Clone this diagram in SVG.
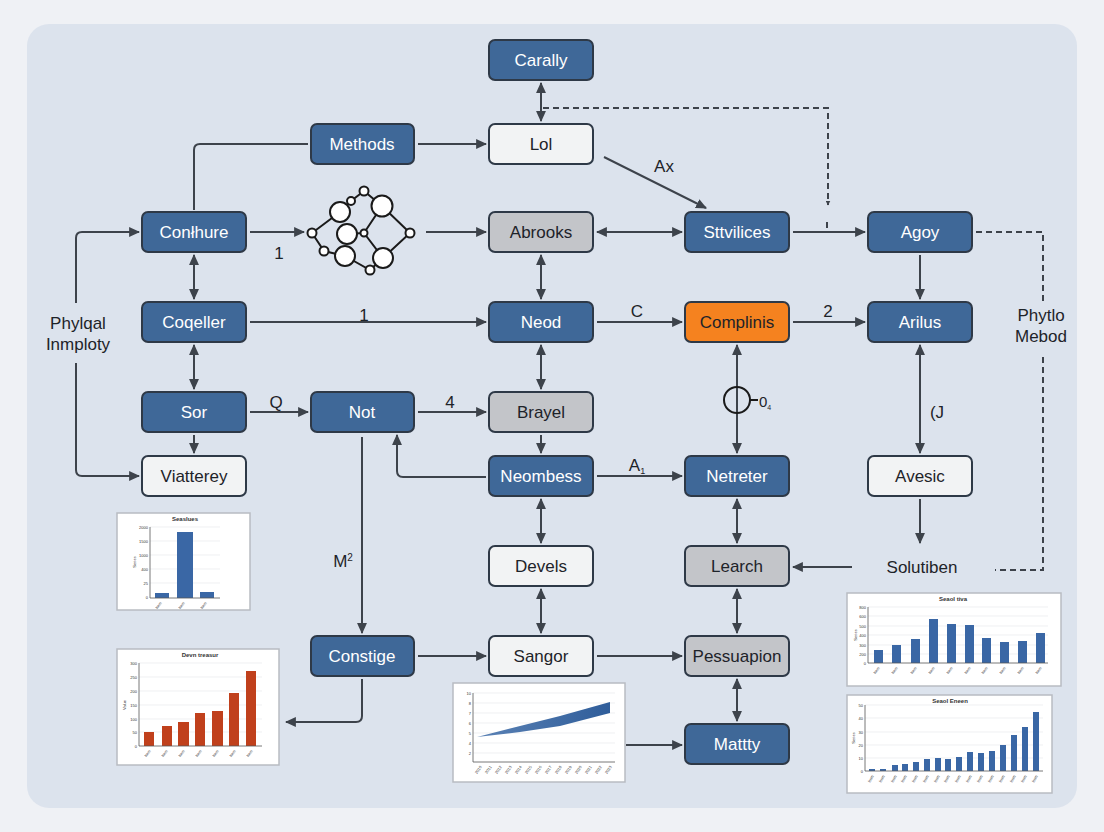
<svg xmlns="http://www.w3.org/2000/svg" width="1104" height="832" viewBox="0 0 1104 832">
<defs>
<marker id="ah" viewBox="0 0 10 10" refX="9" refY="5" markerWidth="5" markerHeight="5" orient="auto-start-reverse" markerUnits="userSpaceOnUse">
<path d="M0,0 L10,5 L0,10 z" fill="#3d434b"/>
</marker>
<marker id="a" viewBox="0 0 10 10" refX="9" refY="5" markerWidth="11" markerHeight="11" orient="auto-start-reverse" markerUnits="userSpaceOnUse">
<path d="M0,0.5 L10,5 L0,9.5 z" fill="#3d434b"/>
</marker>
<marker id="as" viewBox="0 0 10 10" refX="9" refY="5" markerWidth="8" markerHeight="8" orient="auto-start-reverse" markerUnits="userSpaceOnUse">
<path d="M0,0.5 L10,5 L0,9.5 z" fill="#3d434b"/>
</marker>
<linearGradient id="areaG" x1="0" y1="0" x2="1" y2="0">
<stop offset="0" stop-color="#5b82b5"/>
<stop offset="1" stop-color="#2f5d9a"/>
</linearGradient>
</defs>
<style>
.n rect{stroke:#2e3947;stroke-width:2}
.blue rect{fill:#3f6898}
.white rect{fill:#f2f3f4}
.gray rect{fill:#c3c5c9}
.orange rect{fill:#f5821f}
.n text{font-family:"Liberation Sans",Arial,sans-serif;font-size:17px;text-anchor:middle}
.blue text{fill:#ffffff}
.white text,.gray text,.orange text{fill:#1e2329}
.c path,.c line{stroke:#3d434b;stroke-width:2;fill:none}
.dash{stroke:#2f353d;stroke-width:2;fill:none;stroke-dasharray:6 4}
.lbl{font-family:"Liberation Sans",Arial,sans-serif;font-size:17px;fill:#1e2329;text-anchor:middle}
.ch rect.bg{fill:#ffffff;stroke:#b8bcc2;stroke-width:1.5}
.ch .ax{stroke:#555;stroke-width:0.8;fill:none}
.ch .gr{stroke:#e4e6ea;stroke-width:0.6}
.ch text{font-family:"Liberation Sans",Arial,sans-serif;fill:#333}
.ch .t{font-size:6px;font-weight:bold;text-anchor:middle}
.ch .y{font-size:4px;text-anchor:end}
.ch .x{font-size:4px;text-anchor:end}
.bb{fill:#3a67a5}
.rb{fill:#c0401c}
.net circle{fill:#ffffff;stroke:#1a1a1a;stroke-width:2}
.net path{stroke:#1a1a1a;stroke-width:2;fill:none}
</style>
<rect x="0" y="0" width="1104" height="832" fill="#eff1f5"/>
<rect x="27" y="24" width="1050" height="784" rx="22" fill="#dce3ed"/>

<g id="connectors" class="c">
<line x1="541" y1="83" x2="541" y2="121" marker-start="url(#a)" marker-end="url(#a)"/>
<path d="M194,210 V150 Q194,144 200,144 H308"/>
<line x1="418" y1="144" x2="486" y2="144" marker-end="url(#a)"/>
<line x1="604" y1="157" x2="706" y2="208" marker-end="url(#a)"/>
<path d="M76,303 V238 Q76,232 82,232 H139" marker-end="url(#a)"/>
<path d="M76,363 V470 Q76,476 82,476 H139" marker-end="url(#a)"/>
<line x1="194" y1="255" x2="194" y2="299" marker-start="url(#a)" marker-end="url(#a)"/>
<line x1="250" y1="232" x2="304" y2="232" marker-end="url(#a)"/>
<line x1="426" y1="232" x2="486" y2="232" marker-end="url(#a)"/>
<line x1="597" y1="232" x2="682" y2="232" marker-start="url(#a)" marker-end="url(#a)"/>
<line x1="793" y1="232" x2="865" y2="232" marker-end="url(#a)"/>
<line x1="827" y1="222" x2="827" y2="228"/>
<line x1="920" y1="255" x2="920" y2="299" marker-end="url(#a)"/>
<line x1="541" y1="255" x2="541" y2="299" marker-start="url(#a)" marker-end="url(#a)"/>
<line x1="250" y1="322" x2="486" y2="322" marker-end="url(#a)"/>
<line x1="597" y1="322" x2="682" y2="322" marker-end="url(#a)"/>
<line x1="793" y1="322" x2="865" y2="322" marker-end="url(#a)"/>
<line x1="737" y1="345" x2="737" y2="453" marker-start="url(#a)" marker-end="url(#a)"/>
<line x1="920" y1="345" x2="920" y2="453" marker-start="url(#a)" marker-end="url(#a)"/>
<line x1="920" y1="499" x2="920" y2="543" marker-end="url(#a)"/>
<line x1="852" y1="567" x2="793" y2="567" marker-end="url(#a)"/>
<line x1="541" y1="345" x2="541" y2="389" marker-start="url(#a)" marker-end="url(#a)"/>
<line x1="194" y1="345" x2="194" y2="389" marker-start="url(#a)" marker-end="url(#a)"/>
<line x1="250" y1="412" x2="308" y2="412" marker-end="url(#a)"/>
<line x1="418" y1="412" x2="486" y2="412" marker-end="url(#a)"/>
<line x1="194" y1="435" x2="194" y2="453" marker-end="url(#a)"/>
<line x1="541" y1="435" x2="541" y2="453" marker-end="url(#a)"/>
<path d="M486,477 H403 Q397,477 397,471 V435" marker-end="url(#a)"/>
<line x1="362" y1="437" x2="362" y2="633" marker-end="url(#a)"/>
<line x1="597" y1="476" x2="682" y2="476" marker-end="url(#a)"/>
<line x1="541" y1="499" x2="541" y2="543" marker-start="url(#a)" marker-end="url(#a)"/>
<line x1="737" y1="499" x2="737" y2="543" marker-start="url(#a)" marker-end="url(#a)"/>
<line x1="541" y1="589" x2="541" y2="633" marker-start="url(#a)" marker-end="url(#a)"/>
<line x1="737" y1="589" x2="737" y2="633" marker-start="url(#a)" marker-end="url(#a)"/>
<line x1="418" y1="656" x2="486" y2="656" marker-end="url(#a)"/>
<line x1="597" y1="656" x2="682" y2="656" marker-end="url(#a)"/>
<line x1="737" y1="679" x2="737" y2="721" marker-start="url(#a)" marker-end="url(#a)"/>
<line x1="626" y1="745" x2="682" y2="745" marker-end="url(#a)"/>
<path d="M362,679 V716 Q362,722 356,722 H286" marker-end="url(#a)"/>
<path class="dash" d="M543,108 H828 V205" marker-end="url(#ah)"/>
<path class="dash" d="M976,232 H1043 V305"/>
<path class="dash" d="M1043,357 V570 H995"/>
<circle cx="737" cy="400" r="13" fill="none" stroke="#1a1a1a" stroke-width="2"/>
<line x1="750" y1="400" x2="758" y2="400" style="stroke:#1a1a1a"/>
</g>

<g id="labels">
<text class="lbl" x="664" y="172">Ax</text>
<text class="lbl" x="279" y="259">1</text>
<text class="lbl" x="364" y="321">1</text>
<text class="lbl" x="637" y="317">C</text>
<text class="lbl" x="828" y="317">2</text>
<text class="lbl" x="276" y="408">Q</text>
<text class="lbl" x="450" y="408">4</text>
<text class="lbl" x="637" y="471">A<tspan font-size="9" dy="3">1</tspan></text>
<text class="lbl" x="343" y="567">M<tspan font-size="10" dy="-6">2</tspan></text>
<text class="lbl" x="937" y="418">(J</text>
<text class="lbl" x="765" y="407" style="font-size:15px">0<tspan font-size="7" dy="3">4</tspan></text>
<text class="lbl" x="78" y="329">Phylqal</text>
<text class="lbl" x="78" y="350">Inmploty</text>
<text class="lbl" x="1041" y="321">Phytlo</text>
<text class="lbl" x="1041" y="342">Mebod</text>
</g>

<g id="n-carally" class="n blue"><rect x="489" y="40" width="104" height="40" rx="6"/><text x="541" y="66">Carally</text></g>
<g id="n-methods" class="n blue"><rect x="311" y="124" width="103" height="40" rx="6"/><text x="362" y="150">Methods</text></g>
<g id="n-lol" class="n white"><rect x="489" y="124" width="104" height="40" rx="6"/><text x="541" y="150">Lol</text></g>
<g id="n-conhure" class="n blue"><rect x="142" y="212" width="104" height="40" rx="6"/><text x="194" y="238">Conłhure</text></g>
<g id="n-abrooks" class="n gray"><rect x="489" y="212" width="104" height="40" rx="6"/><text x="541" y="238">Abrooks</text></g>
<g id="n-sttvilices" class="n blue"><rect x="685" y="212" width="104" height="40" rx="6"/><text x="737" y="238">Sttvilices</text></g>
<g id="n-agoy" class="n blue"><rect x="868" y="212" width="104" height="40" rx="6"/><text x="920" y="238">Agoy</text></g>
<g id="n-coqeller" class="n blue"><rect x="142" y="302" width="104" height="40" rx="6"/><text x="194" y="328">Coqeller</text></g>
<g id="n-neod" class="n blue"><rect x="489" y="302" width="104" height="40" rx="6"/><text x="541" y="328">Neod</text></g>
<g id="n-complinis" class="n orange"><rect x="685" y="302" width="104" height="40" rx="6"/><text x="737" y="328">Complinis</text></g>
<g id="n-arilus" class="n blue"><rect x="868" y="302" width="104" height="40" rx="6"/><text x="920" y="328">Arilus</text></g>
<g id="n-sor" class="n blue"><rect x="142" y="392" width="104" height="40" rx="6"/><text x="194" y="418">Sor</text></g>
<g id="n-not" class="n blue"><rect x="311" y="392" width="103" height="40" rx="6"/><text x="362" y="418">Not</text></g>
<g id="n-brayel" class="n gray"><rect x="489" y="392" width="104" height="40" rx="6"/><text x="541" y="418">Brayel</text></g>
<g id="n-viatterey" class="n white"><rect x="142" y="456" width="104" height="40" rx="6"/><text x="194" y="482">Viatterey</text></g>
<g id="n-neombess" class="n blue"><rect x="489" y="456" width="104" height="40" rx="6"/><text x="541" y="482">Neombess</text></g>
<g id="n-netreter" class="n blue"><rect x="685" y="456" width="104" height="40" rx="6"/><text x="737" y="482">Netreter</text></g>
<g id="n-avesic" class="n white"><rect x="868" y="456" width="104" height="40" rx="6"/><text x="920" y="482">Avesic</text></g>
<g id="n-devels" class="n white"><rect x="489" y="546" width="104" height="40" rx="6"/><text x="541" y="572">Devels</text></g>
<g id="n-learch" class="n gray"><rect x="685" y="546" width="104" height="40" rx="6"/><text x="737" y="572">Learch</text></g>
<g id="n-solutiben"><text class="lbl" x="922" y="573">Solutiben</text></g>
<g id="n-constige" class="n blue"><rect x="311" y="636" width="103" height="40" rx="6"/><text x="362" y="662">Constige</text></g>
<g id="n-sangor" class="n white"><rect x="489" y="636" width="104" height="40" rx="6"/><text x="541" y="662">Sangor</text></g>
<g id="n-pessuapion" class="n gray"><rect x="685" y="636" width="104" height="40" rx="6"/><text x="737" y="662">Pessuapion</text></g>
<g id="n-mattty" class="n blue"><rect x="685" y="724" width="104" height="40" rx="6"/><text x="737" y="750">Mattty</text></g>

<g id="n-network" class="net">
<path d="M312,233 L340,212 M312,233 L324,251 L345,256 M340,212 L351,201 L364,191 L382,206 M382,206 L410,233 L383,258 L370,270 L345,256 M364,233 L382,206 M364,233 L383,258 M347,234 L364,233"/>
<circle cx="340" cy="212" r="10"/>
<circle cx="382" cy="206" r="10.5"/>
<circle cx="347" cy="234" r="10"/>
<circle cx="345" cy="256" r="10"/>
<circle cx="383" cy="258" r="10"/>
<circle cx="312" cy="233" r="4.5"/>
<circle cx="364" cy="191" r="4.5"/>
<circle cx="351" cy="201" r="4"/>
<circle cx="364" cy="233" r="3.5"/>
<circle cx="410" cy="233" r="4.5"/>
<circle cx="324" cy="251" r="4.5"/>
<circle cx="370" cy="270" r="4.5"/>
</g>

<g id="chart-1" class="ch">
<rect class="bg" x="117" y="513" width="133" height="97"/>
<text class="t" x="185" y="521">Seaslues</text>
<line class="gr" x1="150" y1="527" x2="220" y2="527"/>
<line class="gr" x1="150" y1="541" x2="220" y2="541"/>
<line class="gr" x1="150" y1="555" x2="220" y2="555"/>
<line class="gr" x1="150" y1="569" x2="220" y2="569"/>
<line class="gr" x1="150" y1="583" x2="220" y2="583"/>
<text class="y" x="148" y="529">2000</text>
<text class="y" x="148" y="543">1500</text>
<text class="y" x="148" y="557">1000</text>
<text class="y" x="148" y="571">400</text>
<text class="y" x="148" y="585">25</text>
<text class="y" x="148" y="599">0</text>
<text x="136" y="562" style="font-size:4px" transform="rotate(-90 136 562)" text-anchor="middle">Series</text>
<rect class="bb" x="155" y="593" width="14" height="5"/>
<rect class="bb" x="177" y="532" width="16" height="66"/>
<rect class="bb" x="200" y="592" width="14" height="6"/>
<path class="ax" d="M150,527 V598 H220"/>
<text class="x" x="162" y="603" transform="rotate(-55 162 603)">Item</text>
<text class="x" x="185" y="603" transform="rotate(-55 185 603)">Item</text>
<text class="x" x="207" y="603" transform="rotate(-55 207 603)">Item</text>
</g>

<g id="chart-2" class="ch">
<rect class="bg" x="117" y="649" width="162" height="116"/>
<text class="t" x="200" y="657">Devn treasur</text>
<line class="gr" x1="139" y1="663" x2="262" y2="663"/>
<line class="gr" x1="139" y1="677" x2="262" y2="677"/>
<line class="gr" x1="139" y1="691" x2="262" y2="691"/>
<line class="gr" x1="139" y1="705" x2="262" y2="705"/>
<line class="gr" x1="139" y1="719" x2="262" y2="719"/>
<line class="gr" x1="139" y1="732" x2="262" y2="732"/>
<text class="y" x="137" y="665">300</text>
<text class="y" x="137" y="679">250</text>
<text class="y" x="137" y="693">200</text>
<text class="y" x="137" y="707">150</text>
<text class="y" x="137" y="721">100</text>
<text class="y" x="137" y="734">50</text>
<text class="y" x="137" y="748">0</text>
<text x="126" y="705" style="font-size:4px" transform="rotate(-90 126 705)" text-anchor="middle">Value</text>
<rect class="rb" x="144" y="732" width="10" height="14"/>
<rect class="rb" x="162" y="726" width="10" height="20"/>
<rect class="rb" x="178" y="722" width="11" height="24"/>
<rect class="rb" x="195" y="713" width="10" height="33"/>
<rect class="rb" x="212" y="711" width="11" height="35"/>
<rect class="rb" x="229" y="693" width="10" height="53"/>
<rect class="rb" x="246" y="671" width="10" height="75"/>
<path class="ax" d="M139,663 V746 H262"/>
<text class="x" x="151" y="751" transform="rotate(-55 151 751)">Item</text>
<text class="x" x="168" y="751" transform="rotate(-55 168 751)">Item</text>
<text class="x" x="185" y="751" transform="rotate(-55 185 751)">Item</text>
<text class="x" x="202" y="751" transform="rotate(-55 202 751)">Item</text>
<text class="x" x="219" y="751" transform="rotate(-55 219 751)">Item</text>
<text class="x" x="236" y="751" transform="rotate(-55 236 751)">Item</text>
<text class="x" x="253" y="751" transform="rotate(-55 253 751)">Item</text>
</g>

<g id="chart-3" class="ch">
<rect class="bg" x="453" y="683" width="172" height="99"/>
<line class="gr" x1="473" y1="693" x2="615" y2="693"/>
<line class="gr" x1="473" y1="703" x2="615" y2="703"/>
<line class="gr" x1="473" y1="713" x2="615" y2="713"/>
<line class="gr" x1="473" y1="723" x2="615" y2="723"/>
<line class="gr" x1="473" y1="733" x2="615" y2="733"/>
<line class="gr" x1="473" y1="743" x2="615" y2="743"/>
<line class="gr" x1="473" y1="753" x2="615" y2="753"/>
<text class="y" x="471" y="695">10</text>
<text class="y" x="471" y="705">8</text>
<text class="y" x="471" y="715">7</text>
<text class="y" x="471" y="725">6</text>
<text class="y" x="471" y="735">5</text>
<text class="y" x="471" y="745">4</text>
<text class="y" x="471" y="755">2</text>
<path d="M477,737 L520,726 L560,716 L610,702 L610,713 L560,726 L520,732 Z" fill="url(#areaG)"/>
<path class="ax" d="M473,693 V762 H615"/>
<text class="x" x="482" y="767" transform="rotate(-55 482 767)">2010</text>
<text class="x" x="492" y="767" transform="rotate(-55 492 767)">2011</text>
<text class="x" x="502" y="767" transform="rotate(-55 502 767)">2012</text>
<text class="x" x="512" y="767" transform="rotate(-55 512 767)">2013</text>
<text class="x" x="522" y="767" transform="rotate(-55 522 767)">2014</text>
<text class="x" x="532" y="767" transform="rotate(-55 532 767)">2015</text>
<text class="x" x="542" y="767" transform="rotate(-55 542 767)">2016</text>
<text class="x" x="552" y="767" transform="rotate(-55 552 767)">2017</text>
<text class="x" x="562" y="767" transform="rotate(-55 562 767)">2018</text>
<text class="x" x="572" y="767" transform="rotate(-55 572 767)">2019</text>
<text class="x" x="582" y="767" transform="rotate(-55 582 767)">2020</text>
<text class="x" x="592" y="767" transform="rotate(-55 592 767)">2021</text>
<text class="x" x="602" y="767" transform="rotate(-55 602 767)">2022</text>
<text class="x" x="612" y="767" transform="rotate(-55 612 767)">2023</text>
</g>

<g id="chart-4" class="ch">
<rect class="bg" x="847" y="593" width="214" height="93"/>
<text class="t" x="953" y="601">Seaol tiva</text>
<line class="gr" x1="868" y1="607" x2="1048" y2="607"/>
<line class="gr" x1="868" y1="616" x2="1048" y2="616"/>
<line class="gr" x1="868" y1="626" x2="1048" y2="626"/>
<line class="gr" x1="868" y1="635" x2="1048" y2="635"/>
<line class="gr" x1="868" y1="645" x2="1048" y2="645"/>
<line class="gr" x1="868" y1="654" x2="1048" y2="654"/>
<text class="y" x="866" y="609">800</text>
<text class="y" x="866" y="618">600</text>
<text class="y" x="866" y="628">500</text>
<text class="y" x="866" y="637">400</text>
<text class="y" x="866" y="647">300</text>
<text class="y" x="866" y="656">200</text>
<text class="y" x="866" y="665">0</text>
<text x="857" y="635" style="font-size:4px" transform="rotate(-90 857 635)" text-anchor="middle">Series</text>
<rect class="bb" x="874" y="650" width="9" height="13"/>
<rect class="bb" x="892" y="645" width="9" height="18"/>
<rect class="bb" x="911" y="639" width="9" height="24"/>
<rect class="bb" x="929" y="619" width="9" height="44"/>
<rect class="bb" x="947" y="624" width="9" height="39"/>
<rect class="bb" x="965" y="625" width="9" height="38"/>
<rect class="bb" x="982" y="638" width="9" height="25"/>
<rect class="bb" x="1000" y="642" width="9" height="21"/>
<rect class="bb" x="1018" y="641" width="9" height="22"/>
<rect class="bb" x="1036" y="633" width="9" height="30"/>
<path class="ax" d="M868,607 V663 H1048"/>
<text class="x" x="880" y="668" transform="rotate(-55 880 668)">Item</text>
<text class="x" x="898" y="668" transform="rotate(-55 898 668)">Item</text>
<text class="x" x="917" y="668" transform="rotate(-55 917 668)">Item</text>
<text class="x" x="935" y="668" transform="rotate(-55 935 668)">Item</text>
<text class="x" x="953" y="668" transform="rotate(-55 953 668)">Item</text>
<text class="x" x="971" y="668" transform="rotate(-55 971 668)">Item</text>
<text class="x" x="988" y="668" transform="rotate(-55 988 668)">Item</text>
<text class="x" x="1006" y="668" transform="rotate(-55 1006 668)">Item</text>
<text class="x" x="1024" y="668" transform="rotate(-55 1024 668)">Item</text>
<text class="x" x="1042" y="668" transform="rotate(-55 1042 668)">Item</text>
</g>

<g id="chart-5" class="ch">
<rect class="bg" x="847" y="695" width="205" height="98"/>
<text class="t" x="950" y="703">Seaol Eneen</text>
<line class="gr" x1="865" y1="705" x2="1043" y2="705"/>
<line class="gr" x1="865" y1="718" x2="1043" y2="718"/>
<line class="gr" x1="865" y1="732" x2="1043" y2="732"/>
<line class="gr" x1="865" y1="745" x2="1043" y2="745"/>
<line class="gr" x1="865" y1="758" x2="1043" y2="758"/>
<text class="y" x="863" y="707">50</text>
<text class="y" x="863" y="720">40</text>
<text class="y" x="863" y="734">30</text>
<text class="y" x="863" y="747">20</text>
<text class="y" x="863" y="760">10</text>
<text class="y" x="863" y="773">0</text>
<text x="855" y="738" style="font-size:4px" transform="rotate(-90 855 738)" text-anchor="middle">Series</text>
<rect class="bb" x="869" y="769" width="6" height="2"/>
<rect class="bb" x="880" y="769" width="6" height="2"/>
<rect class="bb" x="892" y="765" width="6" height="6"/>
<rect class="bb" x="902" y="764" width="6" height="7"/>
<rect class="bb" x="913" y="762" width="6" height="9"/>
<rect class="bb" x="924" y="759" width="6" height="12"/>
<rect class="bb" x="935" y="758" width="6" height="13"/>
<rect class="bb" x="945" y="759" width="6" height="12"/>
<rect class="bb" x="956" y="757" width="6" height="14"/>
<rect class="bb" x="967" y="752" width="6" height="19"/>
<rect class="bb" x="978" y="753" width="6" height="18"/>
<rect class="bb" x="989" y="751" width="6" height="20"/>
<rect class="bb" x="1000" y="745" width="6" height="26"/>
<rect class="bb" x="1011" y="735" width="6" height="36"/>
<rect class="bb" x="1022" y="727" width="6" height="44"/>
<rect class="bb" x="1033" y="712" width="6" height="59"/>
<path class="ax" d="M865,705 V771 H1043"/>
<text class="x" x="874" y="776" transform="rotate(-60 874 776)">Item</text>
<text class="x" x="885" y="776" transform="rotate(-60 885 776)">Item</text>
<text class="x" x="897" y="776" transform="rotate(-60 897 776)">Item</text>
<text class="x" x="907" y="776" transform="rotate(-60 907 776)">Item</text>
<text class="x" x="918" y="776" transform="rotate(-60 918 776)">Item</text>
<text class="x" x="929" y="776" transform="rotate(-60 929 776)">Item</text>
<text class="x" x="940" y="776" transform="rotate(-60 940 776)">Item</text>
<text class="x" x="950" y="776" transform="rotate(-60 950 776)">Item</text>
<text class="x" x="961" y="776" transform="rotate(-60 961 776)">Item</text>
<text class="x" x="972" y="776" transform="rotate(-60 972 776)">Item</text>
<text class="x" x="983" y="776" transform="rotate(-60 983 776)">Item</text>
<text class="x" x="994" y="776" transform="rotate(-60 994 776)">Item</text>
<text class="x" x="1005" y="776" transform="rotate(-60 1005 776)">Item</text>
<text class="x" x="1016" y="776" transform="rotate(-60 1016 776)">Item</text>
<text class="x" x="1027" y="776" transform="rotate(-60 1027 776)">Item</text>
<text class="x" x="1038" y="776" transform="rotate(-60 1038 776)">Item</text>
</g>
</svg>
